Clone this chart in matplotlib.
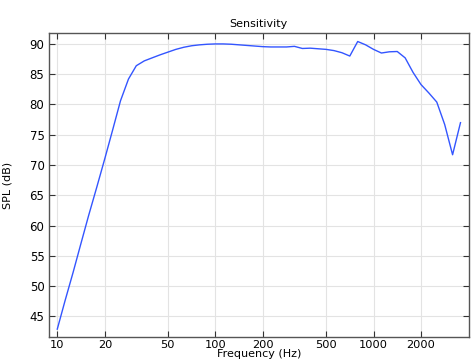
import numpy as np
import matplotlib
matplotlib.use("Agg")
import matplotlib.pyplot as plt
from matplotlib.ticker import FixedLocator, NullLocator

# 1/6-octave style frequency points, 10 Hz .. ~3.5 kHz
freq = [10.0, 11.2, 12.6, 14.1, 15.8, 17.8, 20.0, 22.4, 25.1, 28.2,
        31.6, 35.5, 39.8, 44.7, 50.1, 56.2, 63.1, 70.8, 79.4, 89.1,
        100.0, 112.2, 125.9, 141.3, 158.5, 177.8, 199.5, 223.9, 251.2, 281.8,
        316.2, 354.8, 398.1, 446.7, 501.2, 562.3, 631.0, 707.9, 794.3, 891.3,
        1000.0, 1122.0, 1258.9, 1412.5, 1584.9, 1778.3, 1995.3, 2238.7, 2511.9, 2818.4,
        3162.3, 3548.1]
spl = [42.9, 47.6, 52.3, 57.0, 61.7, 66.4, 71.1, 75.8, 80.6, 84.2,
       86.4, 87.2, 87.7, 88.2, 88.65, 89.1, 89.45, 89.7, 89.85, 89.95,
       90.0, 90.0, 89.95, 89.85, 89.75, 89.65, 89.55, 89.5, 89.5, 89.5,
       89.6, 89.25, 89.3, 89.2, 89.1, 88.9, 88.55, 88.0, 90.4, 89.85,
       89.1, 88.5, 88.7, 88.75, 87.7, 85.3, 83.3, 81.9, 80.4, 76.7,
       71.7, 77.0]

xticks = [10, 20, 50, 100, 200, 500, 1000, 2000]
yticks = [45, 50, 55, 60, 65, 70, 75, 80, 85, 90]

fig = plt.figure(figsize=(4.77, 3.63), dpi=100)
ax = fig.add_axes([0.102, 0.0716, 0.881, 0.8374])

ax.plot(freq, spl, color="#3355ff", lw=1.0)

ax.set_xscale("log")
ax.set_xlim(8.82, 4010)
ax.set_ylim(41.6, 91.8)
ax.xaxis.set_major_locator(FixedLocator(xticks))
ax.xaxis.set_minor_locator(NullLocator())
ax.set_xticklabels([str(t) for t in xticks])
ax.set_yticks(yticks)

ax.grid(True, color="#e3e3e3", lw=0.8)
ax.set_axisbelow(True)
ax.tick_params(direction="in", top=True, right=True, length=4, width=0.8,
               labelsize=8.5, colors="#333333", pad=3)
ax.tick_params(axis="x", labelcolor="black", labelsize=8.2, pad=2.5)
ax.tick_params(axis="y", labelcolor="black")
for s in ax.spines.values():
    s.set_color("#555555")
    s.set_linewidth(1.0)

ax.set_title("Sensitivity", fontsize=8, pad=4)
ax.set_xlabel("Frequency (Hz)", fontsize=8, labelpad=-1)
ax.set_ylabel("SPL (dB)", fontsize=8, labelpad=12)

fig.savefig("out.png", dpi=100)
